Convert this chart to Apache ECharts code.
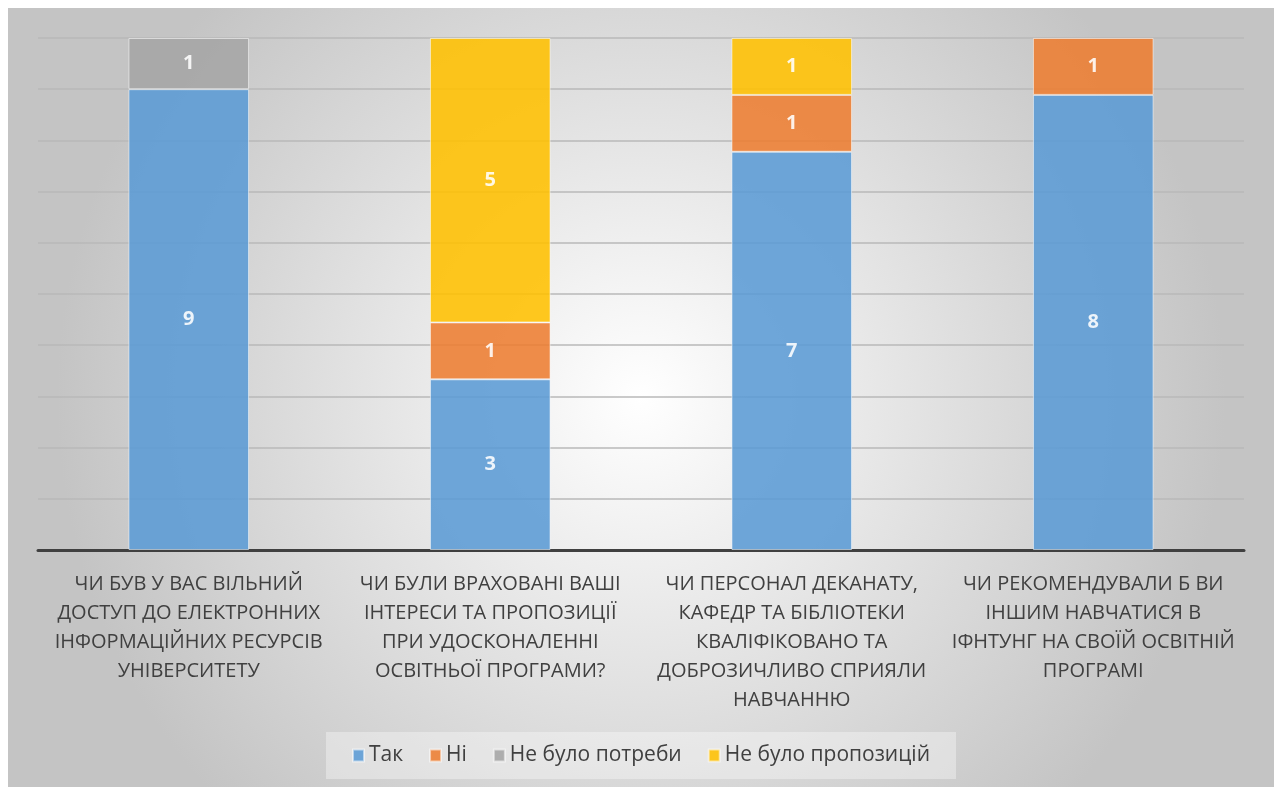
<!DOCTYPE html>
<html>
<head>
<meta charset="utf-8">
<script src="https://cdn.jsdelivr.net/npm/echarts@6/dist/echarts.min.js"></script>
<style>
html,body{margin:0;padding:0;background:#fff;}
#chart{position:absolute;left:8px;top:8px;width:1266px;height:779px;}
</style>
</head>
<body>
<div id="chart"></div>
<script>
const categories = [
  "ЧИ БУВ У ВАС ВІЛЬНИЙ\nДОСТУП ДО ЕЛЕКТРОННИХ\nІНФОРМАЦІЙНИХ РЕСУРСІВ\nУНІВЕРСИТЕТУ",
  "ЧИ БУЛИ ВРАХОВАНІ ВАШІ\nІНТЕРЕСИ ТА ПРОПОЗИЦІЇ\nПРИ УДОСКОНАЛЕННІ\nОСВІТНЬОЇ ПРОГРАМИ?",
  "ЧИ ПЕРСОНАЛ ДЕКАНАТУ,\nКАФЕДР ТА БІБЛІОТЕКИ\nКВАЛІФІКОВАНО ТА\nДОБРОЗИЧЛИВО СПРИЯЛИ\nНАВЧАННЮ",
  "ЧИ РЕКОМЕНДУВАЛИ Б ВИ\nІНШИМ НАВЧАТИСЯ В\nІФНТУНГ НА СВОЇЙ ОСВІТНІЙ\nПРОГРАМІ"
];
const seriesNames = ["Так", "Ні", "Не було потреби", "Не було пропозицій"];
const tak = [9, 3, 7, 8];
const ni = [0, 1, 1, 1];
const nePotreby = [1, 0, 0, 0];
const nePropozytsii = [0, 5, 1, 0];
const colors = ["#5B9BD5", "#ED7D31", "#A5A5A5", "#FFC000"];

const raw = [tak, ni, nePotreby, nePropozytsii];
const totals = categories.map((c, i) => raw.reduce((s, a) => s + a[i], 0));

const chart = echarts.init(document.getElementById('chart'));
const series = raw.map((vals, k) => ({
  name: seriesNames[k],
  type: 'bar',
  stack: 'total',
  barWidth: '40%',
  data: vals.map((v, i) => ({ value: v ? v / totals[i] * 100 : null, raw: v })),
  itemStyle: { color: colors[k], opacity: 0.88, borderColor: 'rgba(255,255,255,0.6)', borderWidth: 1 },
  label: {
    show: true,
    position: 'inside',
    color: '#fff',
    fontFamily: 'Open Sans',
    fontWeight: 'bold',
    fontSize: 20,
    formatter: p => p.data.raw ? String(p.data.raw) : ''
  },
  emphasis: { disabled: true }
}));

chart.setOption({
  animation: false,
  backgroundColor: {
    type: 'radial', x: 0.5, y: 0.5, r: 0.75,
    colorStops: [
      { offset: 0, color: '#ffffff' },
      { offset: 1, color: '#c4c4c4' }
    ]
  },
  color: colors,
  grid: { left: 30, right: 30, top: 30, bottom: 237, containLabel: false },
  legend: {
    bottom: 8,
    left: 'center',
    itemWidth: 11,
    itemHeight: 12,
    itemGap: 26,
    padding: [13, 26, 13, 26],
    backgroundColor: 'rgba(255,255,255,0.35)',
    textStyle: { fontFamily: 'Open Sans', fontSize: 21, color: '#404040' },
    data: seriesNames.map(n => ({ name: n, icon: 'rect' }))
  },
  xAxis: {
    type: 'category',
    data: categories,
    axisLine: { lineStyle: { color: '#404040', width: 3 } },
    axisTick: { show: false },
    axisLabel: {
      interval: 0,
      margin: 20,
      fontFamily: 'Open Sans',
      fontSize: 20,
      lineHeight: 29,
      color: '#404040',
      align: 'center'
    }
  },
  yAxis: {
    type: 'value',
    min: 0,
    max: 100,
    interval: 10,
    axisLabel: { show: false },
    axisLine: { show: false },
    axisTick: { show: false },
    splitLine: { lineStyle: { color: '#b8b8b8', width: 1.5 } }
  },
  series: series
});
</script>
</body>
</html>
